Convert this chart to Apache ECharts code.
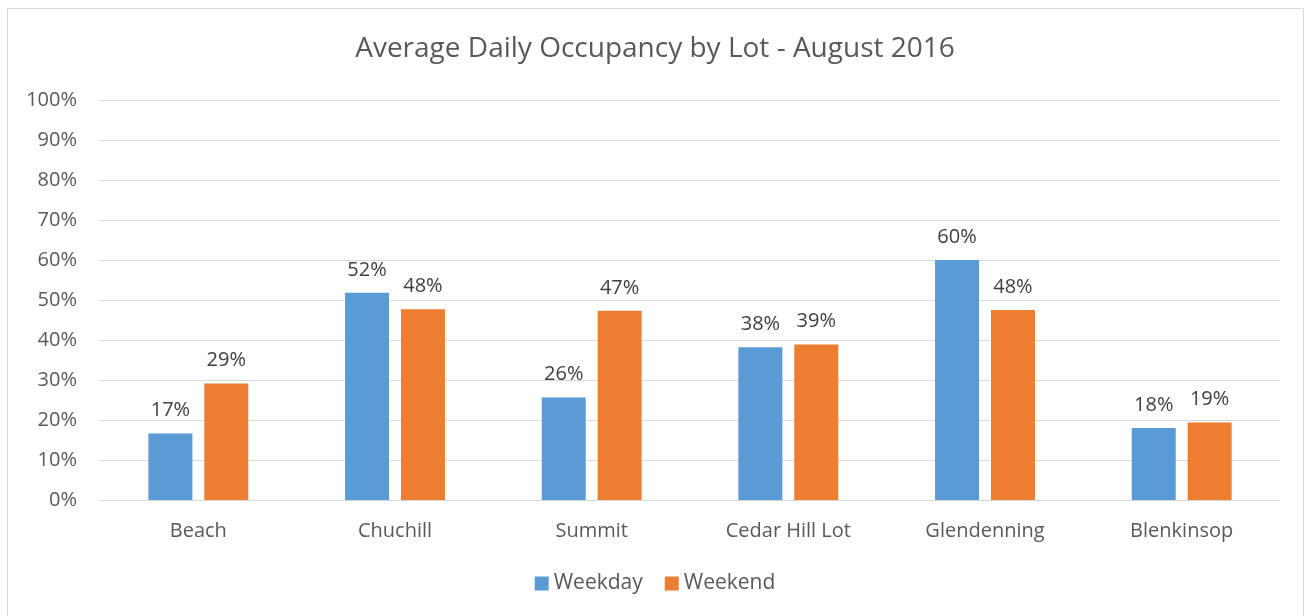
<!DOCTYPE html>
<html>
<head>
<meta charset="utf-8">
<style>
  html, body { margin: 0; padding: 0; background: #fff; }
  #chart { width: 1310px; height: 616px; }
</style>
<script src="https://cdn.jsdelivr.net/npm/echarts@6/dist/echarts.min.js"></script>
</head>
<body>
<div id="chart"></div>
<script>
  // data (percent)
  const lots = ['Beach', 'Chuchill', 'Summit', 'Cedar Hill Lot', 'Glendenning', 'Blenkinsop'];
  const weekday = [16.6, 51.8, 25.6, 38.2, 60.0, 18.0];
  const weekend = [29.1, 47.7, 47.3, 38.9, 47.5, 19.4];
  const seriesNames = ['Weekday', 'Weekend'];

  const font = '"Open Sans", "Noto Sans", sans-serif';
  const chart = echarts.init(document.getElementById('chart'));

  const labelCfg = {
    show: true,
    position: 'top',
    distance: 13,
    color: '#404040',
    fontSize: 20,
    fontFamily: font,
    formatter: p => Math.round(p.value) + '%'
  };

  chart.setOption({
    animation: false,
    backgroundColor: '#fff',
    graphic: [{
      type: 'rect',
      shape: { x: 7.5, y: 8.5, width: 1296, height: 620 },
      style: { fill: 'none', stroke: '#d9d9d9', lineWidth: 1 },
      silent: true
    }],
    title: {
      text: 'Average Daily Occupancy by Lot - August 2016',
      left: 'center',
      top: 30,
      textStyle: { fontFamily: font, fontSize: 28, fontWeight: 'normal', color: '#595959' }
    },
    legend: {
      data: seriesNames,
      bottom: 17,
      left: 'center',
      itemWidth: 14,
      itemHeight: 14,
      itemGap: 22,
      icon: 'rect',
      textStyle: { fontFamily: font, fontSize: 21, color: '#595959' }
    },
    grid: { left: 100, right: 30, top: 100, bottom: 116, containLabel: false },
    xAxis: {
      type: 'category',
      data: lots,
      axisLine: { lineStyle: { color: '#d9d9d9' } },
      axisTick: { show: false },
      axisLabel: { fontFamily: font, fontSize: 20, color: '#595959', margin: 21 }
    },
    yAxis: {
      type: 'value',
      min: 0,
      max: 100,
      interval: 10,
      axisLine: { show: false },
      axisTick: { show: false },
      splitLine: { lineStyle: { color: '#d9d9d9', width: 1 } },
      axisLabel: { fontFamily: font, fontSize: 20, color: '#595959', margin: 23, formatter: '{value}%' }
    },
    series: [
      {
        name: seriesNames[0],
        type: 'bar',
        data: weekday,
        barWidth: 44,
        barGap: '27%',
        itemStyle: { color: '#5B9BD5' },
        label: labelCfg
      },
      {
        name: seriesNames[1],
        type: 'bar',
        data: weekend,
        barWidth: 44,
        barGap: '27%',
        itemStyle: { color: '#ED7D31' },
        label: labelCfg
      }
    ]
  });
</script>
</body>
</html>
